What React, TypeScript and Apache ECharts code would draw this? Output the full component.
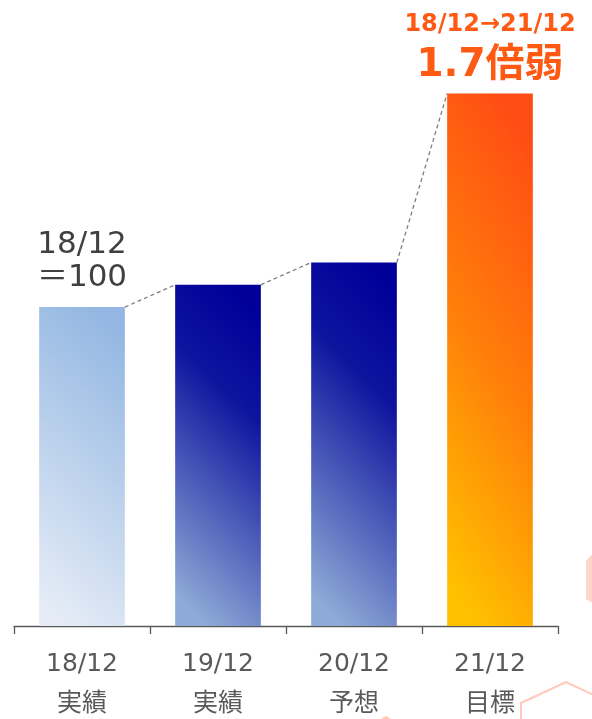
import React, { useEffect, useRef } from "react";
import * as echarts from "echarts";

const categories = ["18/12", "19/12", "20/12", "21/12"];
const subLabels = ["実績", "実績", "予想", "目標"];
const values = [100, 107, 114, 167];
const baseLabel = "18/12\n＝100";
const growthPeriod = "18/12→21/12";
const growthText = "1.7倍弱";

const FONT = "'DejaVu Sans', 'Noto Sans CJK JP', sans-serif";
const BAR_FRAC = 0.63;

const grad = (stops: [number, string][]) =>
  new echarts.graphic.LinearGradient(
    0.62,
    0,
    0.38,
    1,
    stops.map(([offset, color]) => ({ offset, color }))
  );

const barColors = [
  grad([
    [0, "#93b7e2"],
    [1, "#e4ebf6"],
  ]),
  grad([
    [0, "#000099"],
    [0.3, "#0e149e"],
    [1, "#8eaad6"],
  ]),
  grad([
    [0, "#000099"],
    [0.3, "#0e149e"],
    [1, "#8eaad6"],
  ]),
  grad([
    [0, "#ff4c14"],
    [0.5, "#ff7e0a"],
    [1, "#ffc000"],
  ]),
];

export default function App() {
  const ref = useRef<HTMLDivElement>(null);
  useEffect(() => {
    const chart = echarts.init(ref.current!, null, { renderer: "svg" });
    const connectors = values.slice(0, -1).map((v, i) => [i, v, values[i + 1]]);
    chart.setOption({
      animation: false,
      grid: {
        left: 14,
        right: 34,
        top: 52,
        bottom: 93,
        containLabel: false,
        outerBoundsMode: "none",
      },
      xAxis: {
        type: "category",
        data: categories,
        boundaryGap: true,
        axisLine: { show: true, lineStyle: { color: "#595959", width: 1.3 } },
        axisTick: {
          show: true,
          interval: 0,
          alignWithLabel: false,
          inside: false,
          length: 8,
          lineStyle: { color: "#595959", width: 1.3 },
        },
        axisLabel: {
          margin: 16,
          color: "#595959",
          fontSize: 25,
          lineHeight: 40,
          fontFamily: FONT,
          formatter: (v: string, i: number) => `${v}\n${subLabels[i]}`,
        },
      },
      yAxis: { type: "value", min: 0, max: 180, show: false },
      graphic: [
        {
          type: "polyline",
          silent: true,
          z: -1,
          shape: { points: [[521, 725], [521, 703], [566, 682], [600, 698]] },
          style: { stroke: "#ffc9b5", lineWidth: 2, fill: null },
        },
        {
          type: "polyline",
          silent: true,
          z: -1,
          shape: { points: [[372, 726], [386, 717], [400, 726]] },
          style: { stroke: "#ffc9b5", lineWidth: 2, fill: null },
        },
        {
          type: "polygon",
          silent: true,
          z: -1,
          shape: { points: [[594, 552], [586, 561], [586, 599], [594, 604]] },
          style: { fill: "#ffd6c8" },
        },
      ],
      series: [
        {
          type: "bar",
          barWidth: `${BAR_FRAC * 100}%`,
          data: values.map((v, i) => {
            const item: any = { value: v, itemStyle: { color: barColors[i] } };
            if (i === 0) {
              item.label = {
                show: true,
                position: "top",
                distance: 16,
                formatter: baseLabel,
                color: "#404040",
                fontSize: 31,
                lineHeight: 33,
                fontFamily: FONT,
              };
            }
            if (i === values.length - 1) {
              item.label = {
                show: true,
                position: "top",
                distance: 8,
                formatter: `{a|${growthPeriod}}\n{b|${growthText}}`,
                rich: {
                  a: {
                    color: "#ff5a14",
                    fontSize: 24,
                    fontWeight: "bold",
                    lineHeight: 32,
                    fontFamily: FONT,
                  },
                  b: {
                    color: "#ff5a14",
                    fontSize: 39,
                    fontWeight: "bold",
                    lineHeight: 46,
                    fontFamily: FONT,
                  },
                },
              };
            }
            return item;
          }),
        },
        {
          type: "custom",
          silent: true,
          z: 5,
          encode: { x: 0, y: 1 },
          data: connectors,
          renderItem: (params: any, api: any) => {
            const i = api.value(0);
            const a = api.coord([i, api.value(1)]);
            const b = api.coord([i + 1, api.value(2)]);
            const hw = (api.size([1, 0])[0] * BAR_FRAC) / 2;
            return {
              type: "line",
              shape: { x1: a[0] + hw, y1: a[1], x2: b[0] - hw, y2: b[1] },
              style: { stroke: "#7f7f7f", lineWidth: 1.3, lineDash: [4, 3] },
            };
          },
        },
      ],
    });
    return () => chart.dispose();
  }, []);
  return (
    <div
      ref={ref}
      style={{ position: "fixed", left: 0, top: 0, width: 592, height: 719 }}
    />
  );
}
